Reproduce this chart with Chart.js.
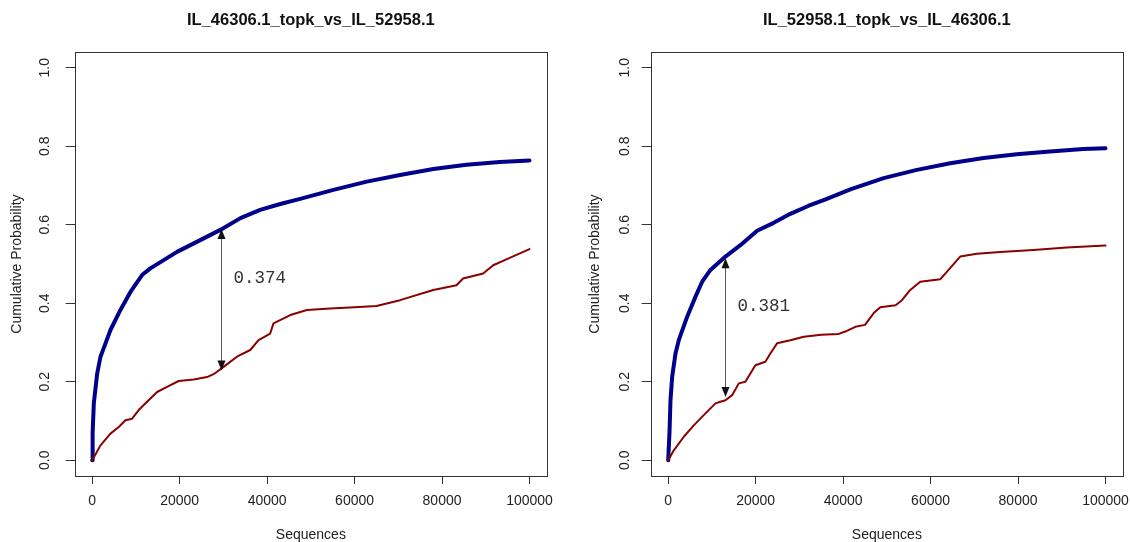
<!DOCTYPE html>
<html>
<head>
<meta charset="utf-8">
<script src="https://cdn.jsdelivr.net/npm/chart.js@4.4.1/dist/chart.umd.min.js"></script>
<style>
  html, body { margin: 0; padding: 0; background: #fff; }
  #wrap { position: relative; width: 1130px; height: 542px; overflow: hidden; }
  .panel { position: absolute; top: 0; height: 542px; }
  #leftPanel { left: 0; width: 565px; }
  #rightPanel { left: 576px; width: 554px; }
</style>
</head>
<body>
<div id="wrap">
  <div class="panel" id="leftPanel"><canvas id="chartLeft"></canvas></div>
  <div class="panel" id="rightPanel"><canvas id="chartRight"></canvas></div>
</div>
<script>
// ==========================================
// DATA
// ==========================================
const panelTitles = ['IL_46306.1_topk_vs_IL_52958.1', 'IL_52958.1_topk_vs_IL_46306.1'];
const xTickValues = [0, 20000, 40000, 60000, 80000, 100000];
const xTickLabels = ['0', '20000', '40000', '60000', '80000', '100000'];
const yTickValues = [0, 0.2, 0.4, 0.6, 0.8, 1.0];
const yTickLabels = ['0.0', '0.2', '0.4', '0.6', '0.8', '1.0'];

// left panel: topk (blue) and other (red)
const leftBlueX = [0, 100, 370, 1140, 1900, 3040, 4180, 6460, 8750, 11400, 13300, 19400, 24700, 29300, 33900, 38400, 43000, 47560, 55160, 62780, 70400, 78000, 85600, 93200, 100000];
const leftBlueY = [0, 0.07, 0.145, 0.221, 0.264, 0.298, 0.332, 0.383, 0.429, 0.472, 0.489, 0.531, 0.561, 0.587, 0.617, 0.638, 0.653, 0.666, 0.689, 0.710, 0.727, 0.742, 0.753, 0.760, 0.764];
const leftRedX = [0, 1900, 4180, 6080, 7600, 9130, 10640, 12550, 14840, 17120, 19770, 23200, 26260, 28000, 30040, 33100, 36140, 38040, 40700, 41460, 45300, 49100, 54400, 60000, 65000, 70400, 78000, 83300, 84800, 89400, 91700, 94700, 97800, 100000];
const leftRedY = [0, 0.038, 0.068, 0.085, 0.102, 0.106, 0.128, 0.149, 0.174, 0.187, 0.202, 0.206, 0.212, 0.221, 0.238, 0.264, 0.281, 0.306, 0.323, 0.349, 0.370, 0.383, 0.387, 0.390, 0.393, 0.408, 0.434, 0.446, 0.463, 0.476, 0.497, 0.512, 0.527, 0.538];

// right panel
const rightBlueX = [0, 300, 525, 910, 1670, 2420, 4340, 6240, 7770, 9660, 13090, 16510, 20330, 24120, 27930, 32000, 36000, 41650, 49250, 56870, 64480, 72100, 79700, 87300, 94900, 100000];
const rightBlueY = [0, 0.072, 0.153, 0.213, 0.272, 0.306, 0.366, 0.417, 0.455, 0.485, 0.519, 0.548, 0.585, 0.605, 0.628, 0.648, 0.665, 0.690, 0.719, 0.740, 0.757, 0.770, 0.780, 0.787, 0.793, 0.795];
const rightRedX = [0, 1290, 3570, 5850, 8130, 10800, 11950, 13090, 14620, 16140, 17650, 19940, 22220, 23370, 24890, 27930, 31000, 35000, 39000, 40500, 42800, 45000, 47000, 48500, 52000, 53450, 55350, 57630, 62200, 66770, 70580, 75900, 83500, 91140, 100000];
const rightRedY = [0, 0.0255, 0.060, 0.089, 0.115, 0.145, 0.149, 0.153, 0.166, 0.196, 0.200, 0.242, 0.251, 0.272, 0.298, 0.306, 0.315, 0.320, 0.322, 0.328, 0.340, 0.345, 0.375, 0.390, 0.395, 0.408, 0.434, 0.455, 0.461, 0.519, 0.526, 0.531, 0.536, 0.542, 0.547];

// KS distance arrows
const ksAt = [29500, 13000];
const ksLow = [0.229, 0.161];
const ksHigh = [0.589, 0.515];
const ksLabels = ['0.374', '0.381'];

// ==========================================
// DRAWING
// ==========================================
const SANS = '"Liberation Sans", Arial, sans-serif';

// frame box, rotated y labels, ks arrow + text
const framePlugin = {
    id: 'framePlugin',
    afterDraw(chart, args, opts) {
        const { ctx, chartArea: a, scales: { x, y } } = chart;
        ctx.save();
        ctx.strokeStyle = '#333';
        ctx.lineWidth = 1;
        ctx.strokeRect(Math.round(a.left) + 0.5, Math.round(a.top) + 0.5,
            Math.round(a.right - a.left), Math.round(a.bottom - a.top));

        ctx.fillStyle = '#222';
        ctx.font = '14px ' + SANS;
        ctx.textAlign = 'center';
        ctx.textBaseline = 'middle';
        yTickValues.forEach((v, i) => {
            ctx.save();
            ctx.translate(a.left - opts.yLabelGap, y.getPixelForValue(v));
            ctx.rotate(-Math.PI / 2);
            ctx.fillText(yTickLabels[i], 0, 0);
            ctx.restore();
        });

        const k = opts.ks;
        const px = Math.round(x.getPixelForValue(ksAt[k])) + 0.5;
        const pLow = y.getPixelForValue(ksLow[k]);
        const pHigh = y.getPixelForValue(ksHigh[k]);
        ctx.strokeStyle = '#555';
        ctx.beginPath();
        ctx.moveTo(px, pLow - 8);
        ctx.lineTo(px, pHigh + 8);
        ctx.stroke();
        ctx.fillStyle = '#111';
        ctx.beginPath();
        ctx.moveTo(px, pHigh); ctx.lineTo(px - 4, pHigh + 10); ctx.lineTo(px + 4, pHigh + 10); ctx.closePath();
        ctx.fill();
        ctx.beginPath();
        ctx.moveTo(px, pLow); ctx.lineTo(px - 4, pLow - 10); ctx.lineTo(px + 4, pLow - 10); ctx.closePath();
        ctx.fill();

        ctx.fillStyle = '#333';
        ctx.font = '17.5px "Liberation Mono", "Courier New", monospace';
        ctx.textAlign = 'left';
        ctx.fillText(ksLabels[k], px + 12, pLow + (pHigh - pLow) * 0.65);
        ctx.restore();
    }
};

const toPoints = (xs, ys) => xs.map((v, i) => ({ x: v, y: ys[i] }));

const makePanel = (canvasId, idx, blue, red, padRight, yTitlePad, yLabelGap) => {
    const ctx = document.getElementById(canvasId).getContext('2d');
    return new Chart(ctx, {
        type: 'line',
        data: {
            datasets: [
                { data: toPoints(blue[0], blue[1]), borderColor: '#00008B', borderWidth: 4, pointRadius: 0, tension: 0, order: 1, borderCapStyle: 'round', borderJoinStyle: 'round' },
                { data: toPoints(red[0], red[1]), borderColor: '#8B0000', borderWidth: 2, pointRadius: 0, tension: 0, order: 0, borderCapStyle: 'round', borderJoinStyle: 'round' }
            ]
        },
        options: {
            responsive: true,
            maintainAspectRatio: false,
            animation: false,
            events: [],
            layout: { padding: { left: 0, right: padRight, top: 0, bottom: 0 }, autoPadding: false },
            plugins: {
                legend: { display: false },
                tooltip: { enabled: false },
                title: {
                    display: true, text: panelTitles[idx], fullSize: false, color: '#111',
                    font: { family: SANS, size: 16.5, weight: 'bold', lineHeight: 1.2 },
                    padding: { top: 10.6, bottom: 21.7 }
                },
                framePlugin: { ks: idx, yLabelGap: yLabelGap }
            },
            scales: {
                x: {
                    type: 'linear', min: -4000, max: 104000,
                    afterBuildTicks: s => { s.ticks = xTickValues.map(v => ({ value: v })); },
                    afterFit: s => { s.height = 66; s.paddingLeft = 0; s.paddingRight = 0; },
                    ticks: { color: '#222', font: { family: SANS, size: 14 }, padding: 9, maxRotation: 0, autoSkip: false,
                        callback: (v, i) => xTickLabels[i] },
                    grid: { drawOnChartArea: false, drawTicks: true, tickLength: 8, color: '#333', lineWidth: 1 },
                    border: { display: false },
                    title: { display: true, text: 'Sequences', color: '#222', font: { family: SANS, size: 14, lineHeight: 1 }, padding: { top: 0, bottom: 0 } }
                },
                y: {
                    type: 'linear', min: -0.04, max: 1.04,
                    afterBuildTicks: s => { s.ticks = yTickValues.map(v => ({ value: v })); },
                    afterFit: s => { s.width = 74.7; s.paddingTop = 0; s.paddingBottom = 0; },
                    ticks: { display: false },
                    grid: { drawOnChartArea: false, drawTicks: true, tickLength: 9, color: '#333', lineWidth: 1 },
                    border: { display: false },
                    title: { display: true, text: 'Cumulative Probability', color: '#222', font: { family: SANS, size: 14, lineHeight: 1 }, padding: { top: yTitlePad, bottom: 0 } }
                }
            }
        },
        plugins: [framePlugin]
    });
};

makePanel('chartLeft', 0, [leftBlueX, leftBlueY], [leftRedX, leftRedY], 18, 9.7, 29.5);
makePanel('chartRight', 1, [rightBlueX, rightBlueY], [rightRedX, rightRedY], 7, 12, 26);
</script>
</body>
</html>
